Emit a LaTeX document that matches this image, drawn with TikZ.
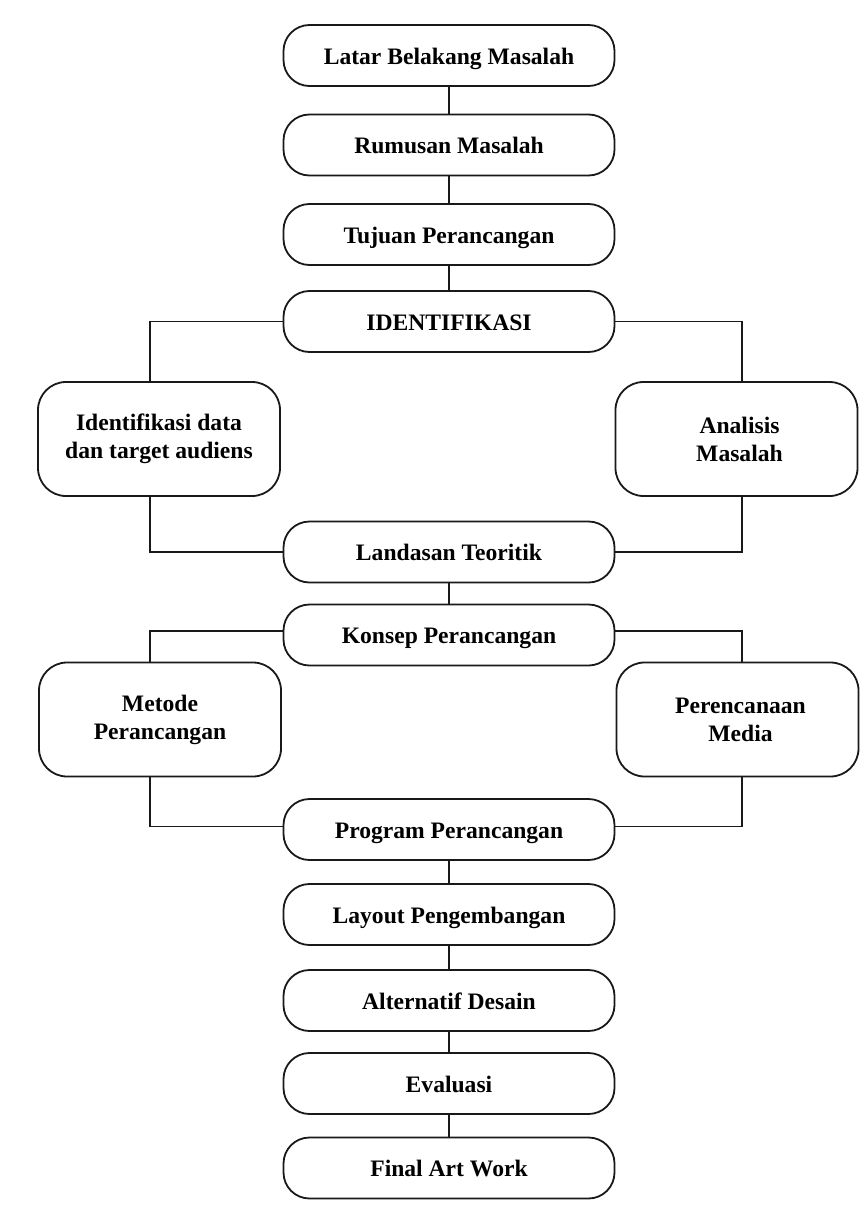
\documentclass[tikz,border=0pt]{standalone}
\usepackage{fontspec}
\setmainfont{Liberation Serif}
\begin{document}
\begin{tikzpicture}[x=1pt,y=-1pt,
  box/.style={draw=black!90, line width=1.8pt, rounded corners=26pt,
    minimum width=331pt, minimum height=61pt, inner sep=0pt,
    text height=17pt, text depth=0pt,
    font=\fontsize{23.6}{28}\selectfont\bfseries},
  bigbox/.style={draw=black!90, line width=1.8pt, rounded corners=28pt,
    minimum width=242pt, minimum height=114pt, inner sep=0pt, align=center,
    font=\fontsize{23.6}{28}\selectfont\bfseries},
  link/.style={draw=black!90, line width=1.8pt}]
\fill[white] (0,0) rectangle (866,1207);
\useasboundingbox (0,0) rectangle (866,1207);
% central column
\node[box] (latar) at (449,55.5) {Latar Belakang Masalah};
\node[box] (rumus) at (449,145) {Rumusan Masalah};
\node[box] (tujuan) at (449,234.5) {Tujuan Perancangan};
\node[box] (ident) at (449,321.5) {IDENTIFIKASI};
\node[box] (land) at (449,552) {Landasan Teoritik};
\node[box] (konsep) at (449,635) {Konsep Perancangan};
\node[box] (prog) at (449,829.5) {Program Perancangan};
\node[box] (layout) at (449,914.5) {Layout Pengembangan};
\node[box] (alt) at (449,1000.5) {Alternatif Desain};
\node[box] (eval) at (449,1083.5) {Evaluasi};
\node[box] (final) at (449,1168) {Final Art Work};
% side boxes
\node[bigbox] (idl) at (159,439) {Identifikasi data\\dan target audiens};
\node[bigbox] (anl) at (736.5,439) {\hspace*{6pt}Analisis\\\hspace*{6pt}Masalah};
\node[bigbox] (met) at (160,719.5) {Metode\\Perancangan};
\node[bigbox] (per) at (737.5,719.5) {\hspace*{6pt}Perencanaan\\\hspace*{6pt}Media};
% vertical chain
\draw[link] (latar) -- (rumus);
\draw[link] (rumus) -- (tujuan);
\draw[link] (tujuan) -- (ident);
\draw[link] (land) -- (konsep);
\draw[link] (prog) -- (layout);
\draw[link] (layout) -- (alt);
\draw[link] (alt) -- (eval);
\draw[link] (eval) -- (final);
% branches
\draw[link] (ident.west) -| ([xshift=-9pt]idl.north);
\draw[link] (ident.east) -| ([xshift=5.5pt]anl.north);
\draw[link] ([xshift=-9pt]idl.south) |- (land.west);
\draw[link] ([xshift=5.5pt]anl.south) |- (land.east);
\draw[link] ([yshift=4pt]konsep.west) -| ([xshift=-10pt]met.north);
\draw[link] ([yshift=4pt]konsep.east) -| ([xshift=4.5pt]per.north);
\draw[link] ([xshift=-10pt]met.south) |- ([yshift=3pt]prog.west);
\draw[link] ([xshift=4.5pt]per.south) |- ([yshift=3pt]prog.east);
\end{tikzpicture}
\end{document}
